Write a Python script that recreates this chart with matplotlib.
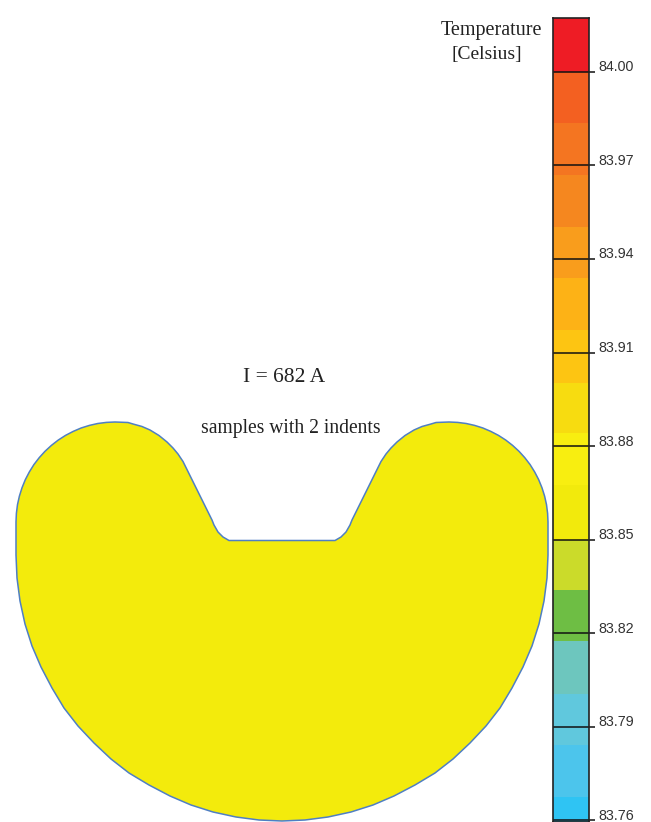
import matplotlib
matplotlib.use("Agg")
import matplotlib.pyplot as plt
from matplotlib.transforms import ScaledTranslation

outline_x = [115, 106.4, 97.8, 89.4, 81.1, 73.2, 65.5, 58.2, 51.4, 45, 39.2, 33.9, 29.3, 25.3, 22, 19.4, 17.5, 16.4, 16,
             16, 17, 20, 25, 32, 41, 52, 64, 78, 94, 111, 129, 149, 170, 191, 213, 236, 259, 282,
             305, 328, 351, 373, 394, 415, 435, 453, 470, 486, 500, 512, 523, 532, 539, 544, 547, 548,
             548, 547.6, 546.5, 544.6, 542, 538.7, 534.7, 530.1, 524.8, 519, 512.6, 505.8, 498.5, 490.8, 482.9, 474.6, 466.2, 457.6, 449,
             436, 431, 422, 414, 405, 397, 391, 386, 381,
             352, 350, 346, 341, 335, 229, 223, 218, 214, 212,
             183, 178, 173, 167, 159, 150, 142, 133, 128]
outline_y = [422, 422.4, 423.5, 425.4, 428, 431.4, 435.4, 440.1, 445.4, 451.3, 457.7, 464.6, 472, 479.7, 487.8, 496.1, 504.6, 513.3, 522,
             555, 578, 601, 624, 646, 667, 688, 708, 726, 743, 759, 773, 785, 796, 805, 812, 817, 820, 821,
             820, 817, 812, 805, 796, 785, 773, 759, 743, 726, 708, 688, 667, 646, 624, 601, 578, 555,
             522, 513.3, 504.6, 496.1, 487.8, 479.7, 472, 464.6, 457.7, 451.3, 445.4, 440.1, 435.4, 431.4, 428, 425.4, 423.5, 422.4, 422,
             422.5, 424, 426.5, 430, 435.5, 442, 448, 454, 461.5,
             520, 525, 532, 537, 540.5, 540.5, 537, 532, 525, 520,
             461.5, 454, 448, 442, 435.5, 430, 426.5, 424, 422.5]

# colour bands, temperature edges from the top of the bar down
band_edges = [84.0173, 84.0000, 83.9836, 83.9670, 83.9503, 83.9339, 83.9172, 83.9002, 83.8842,
              83.8675, 83.8499, 83.8338, 83.8174, 83.8004, 83.7841, 83.7674, 83.7594]
band_colors = ['#EE1C25', '#F36021', '#F47521', '#F5871F', '#F99D1C', '#FDB216', '#FDC512',
               '#F7DC10', '#F8EE10', '#F2EA0C', '#CBDB2A', '#6EBE44', '#6DC6BE', '#60C8DD',
               '#4CC5EC', '#2FC4F3']
tick_values = [84.00, 83.97, 83.94, 83.91, 83.88, 83.85, 83.82, 83.79, 83.76]
tick_labels = ['84.00', '83.97', '83.94', '83.91', '83.88', '83.85', '83.82', '83.79', '83.76']

fig = plt.figure(figsize=(6.51, 8.22), dpi=100, facecolor='white')

ax = fig.add_axes([0, 0, 1, 1])
ax.set_xlim(0, 651)
ax.set_ylim(822, 0)
ax.axis('off')
ax.fill(outline_x, outline_y, facecolor='#F3EB0C', edgecolor='#4F7FC4', linewidth=1.1)

serif = 'Liberation Serif'
ax.text(491.5, 30, 'Temperature', family=serif, fontsize=14.5, color='#222222', ha='center', va='center')
ax.text(487, 55, '[Celsius]', family=serif, fontsize=14, color='#222222', ha='center', va='center')
ax.text(284, 377, 'I = 682 A', family=serif, fontsize=15.5, color='#222222', ha='center', va='center')
ax.text(291, 428, 'samples with 2 indents', family=serif, fontsize=14.1, color='#222222', ha='center', va='center')

# colour bar has its own temperature axis
cb = fig.add_axes([553 / 651, 0, 36 / 651, 804 / 822])
for i in range(len(band_colors)):
    cb.bar(0, band_edges[i] - band_edges[i + 1], bottom=band_edges[i + 1], width=1,
           color=band_colors[i], linewidth=0)
cb.set_xlim(-0.5, 0.5)
cb.set_ylim(band_edges[-1], band_edges[0])
cb.set_xticks([])
cb.yaxis.tick_right()
cb.set_yticks(tick_values)
cb.set_yticklabels(tick_labels, family='Liberation Sans', fontsize=10.3, color='#333333', va='center')
cb.tick_params(axis='y', length=4, width=1.1, color='#111111', pad=3)
# labels sit a little above their tick
shift = ScaledTranslation(0, 4.5 / 100, fig.dpi_scale_trans)
for label in cb.get_yticklabels():
    label.set_transform(label.get_transform() + shift)
for v in tick_values:
    cb.axhline(v, color='#111111', linewidth=1.1)
for s in cb.spines.values():
    s.set_linewidth(1.2)
    s.set_color('#222222')

fig.savefig('out.png', dpi=100)
